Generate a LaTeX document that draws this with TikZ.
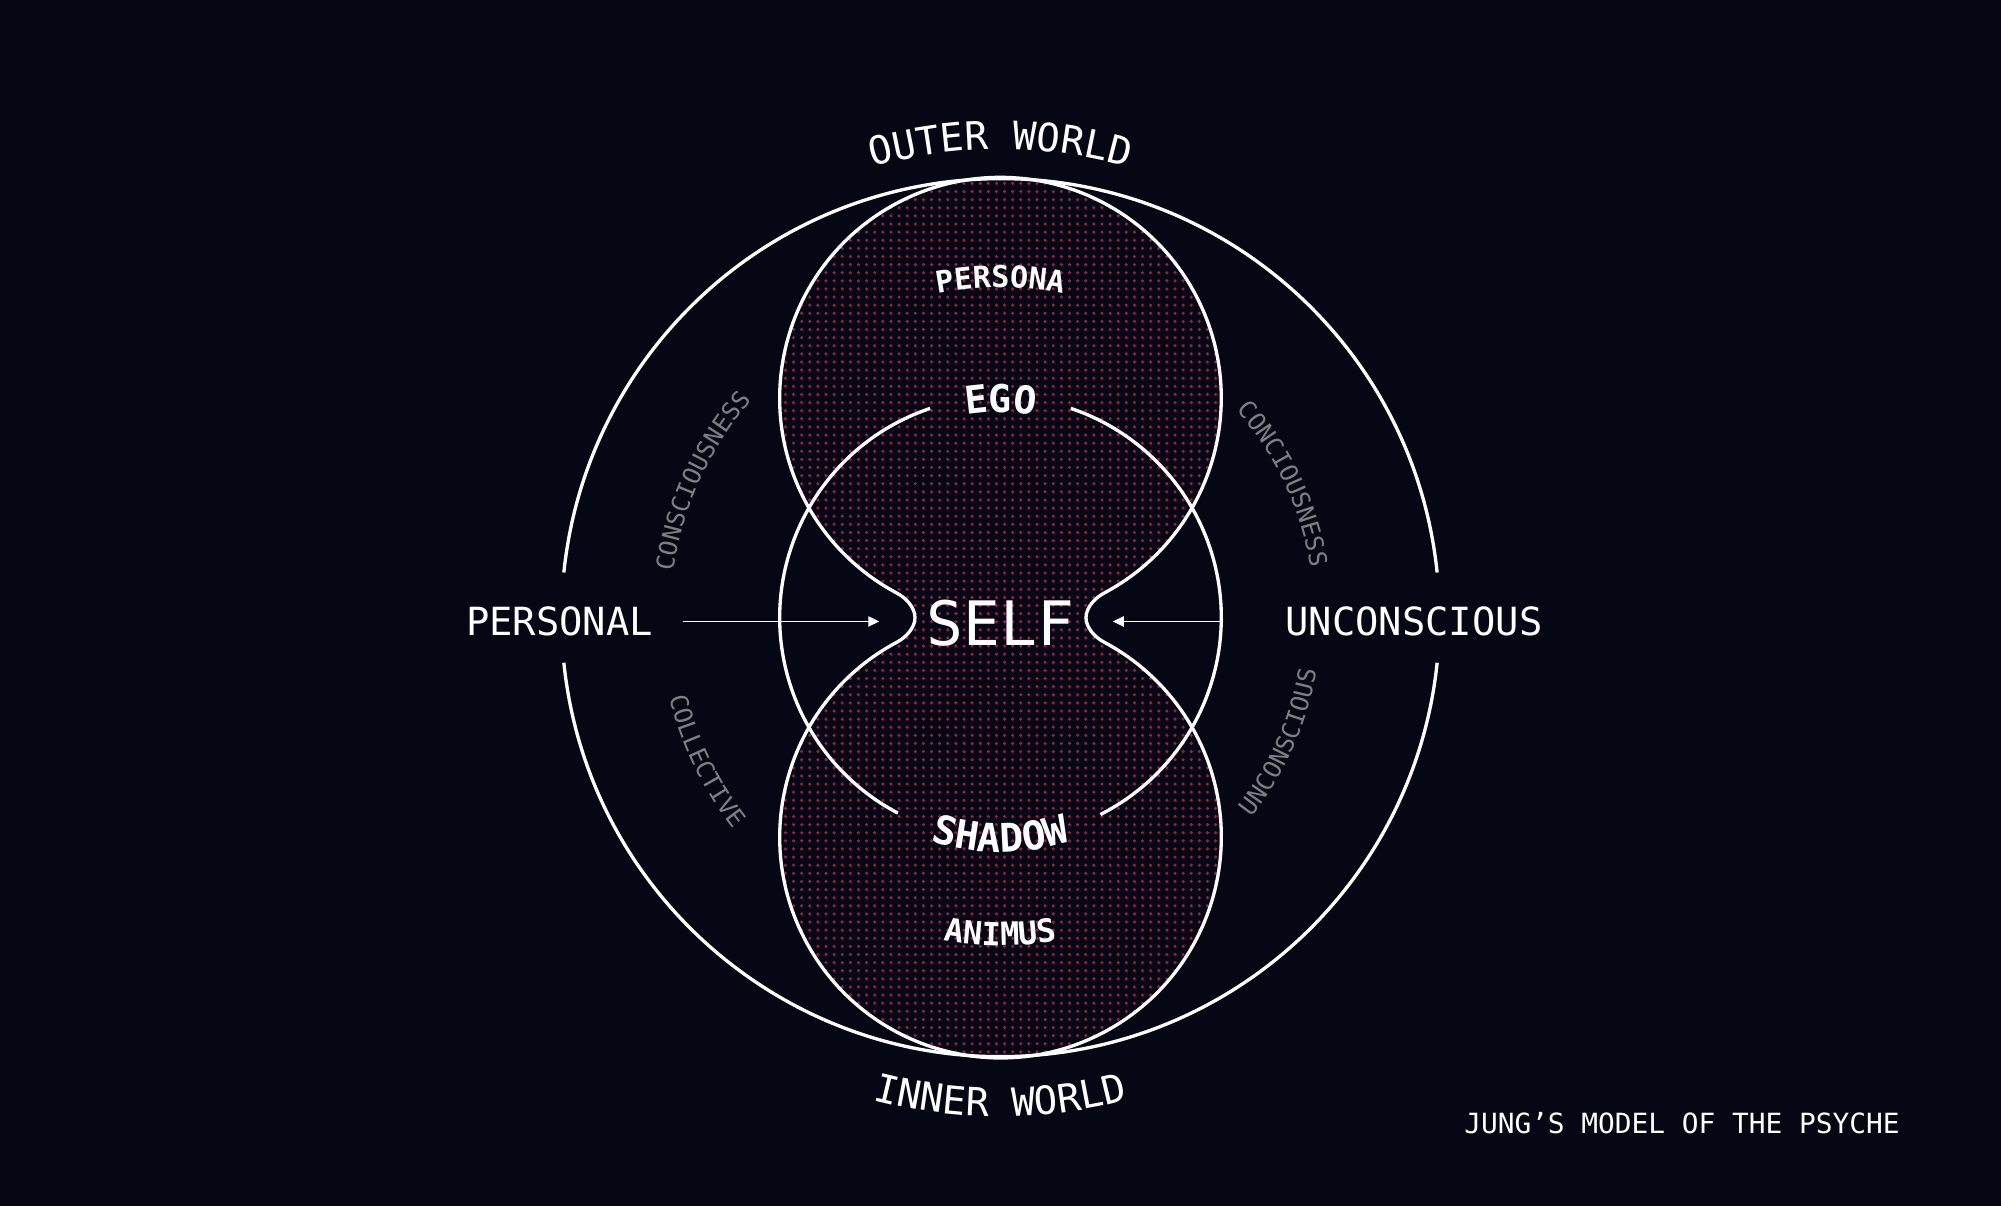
\documentclass[tikz,border=0pt]{standalone}
\usepackage{fontspec}
\newfontfamily\mono{DejaVu Sans Mono}
\usetikzlibrary{decorations.text,arrows.meta}
\definecolor{bg}{HTML}{050814}
\definecolor{dotred}{HTML}{A01A45}
\definecolor{labelgray}{HTML}{7D7F86}
\newcommand\setfs[1]{\fontsize{#1}{#1}\selectfont}
\begin{document}
\begin{tikzpicture}[x=0.5pt,y=0.5pt,
  wline/.style={white,line width=1.3pt},
  arrowline/.style={white,line width=0.55pt,-{Triangle[length=4.3pt,width=4pt]}},
  bigarc/.style={decorate,decoration={text along path,text align=center,text color=white,text={|\mono\setfs{15.3}|#1}}},
  grayarc/.style={decorate,decoration={text along path,text align=center,text color=labelgray,text={|\mono\setfs{9.6}|#1}}},
  boldarc/.style 2 args={decorate,decoration={text along path,text align=center,text color=white,text={|\mono\bfseries\setfs{#1}|#2}}},
  biglabel/.style={white,inner sep=0pt,font=\mono\setfs{15.2}}
]
% background / bounding box
\fill[bg] (-784,-461) rectangle (784,484);
\useasboundingbox (-784,-461) rectangle (784,484);

% dotted double-circle shape with neck
\begin{scope}
\clip
  (81.2,19.25) arc[start angle=-62,end angle=242,radius=173]
  .. controls (-74.1,15.5) and (-67,8) .. (-67,0)
  .. controls (-67,-8) and (-74.1,-15.5) .. (-81.2,-19.25)
  arc[start angle=118,end angle=422,radius=173]
  .. controls (74.1,-15.5) and (67,-8) .. (67,0)
  .. controls (67,8) and (74.1,15.5) .. (81.2,19.25) -- cycle;
\foreach \i in {-28,...,28}{
  \fill[dotred] \foreach \j in {-55,...,55}{ (\i*6.36+3.18,\j*6.36+3.18) circle[radius=1.37] };
}
\end{scope}
\draw[wline]
  (81.2,19.25) arc[start angle=-62,end angle=242,radius=173]
  .. controls (-74.1,15.5) and (-67,8) .. (-67,0)
  .. controls (-67,-8) and (-74.1,-15.5) .. (-81.2,-19.25)
  arc[start angle=118,end angle=422,radius=173]
  .. controls (74.1,-15.5) and (67,-8) .. (67,0)
  .. controls (67,8) and (74.1,15.5) .. (81.2,19.25) -- cycle;

% middle circle arcs
\draw[wline] (108.6:173) arc[start angle=108.6,end angle=242.3,radius=173];
\draw[wline] (-63.1:173) arc[start angle=-63.1,end angle=71.4,radius=173];

% outer circle arcs
\draw[wline] (5.9:344) arc[start angle=5.9,end angle=174.1,radius=344];
\draw[wline] (185.9:344) arc[start angle=185.9,end angle=354.1,radius=344];

% curved labels
\path[bigarc={OUTER WORLD}] (120:367) arc[start angle=120,end angle=60,radius=367];
\path[bigarc={INNER WORLD}] (240:391) arc[start angle=240,end angle=300,radius=391];
\path[boldarc={11.8}{PERSONA}] (120:259) arc[start angle=120,end angle=60,radius=259];
\path[boldarc={15}{EGO}] (120:161) arc[start angle=120,end angle=60,radius=161];
\path[boldarc={15.5}{SHADOW}] (240:184) arc[start angle=240,end angle=300,radius=184];
\path[boldarc={12.5}{ANIMUS}] (240:257) arc[start angle=240,end angle=300,radius=257];

\path[grayarc={CONSCIOUSNESS}] (185.4:259) arc[start angle=185.4,end angle=125.4,radius=259];
\path[grayarc={CONCIOUSNESS}] (55.3:246) arc[start angle=55.3,end angle=-4.7,radius=246];
\path[grayarc={COLLECTIVE}] (175.9:267) arc[start angle=175.9,end angle=235.9,radius=267];
\path[grayarc={UNCONSCIOUS}] (-54:251) arc[start angle=-54,end angle=6,radius=251];

% straight labels
\node[white,inner sep=0pt,font=\mono\setfs{24}] (self) at (0,-4) {SELF};
\node[biglabel] (personal) at (-345.5,-3) {PERSONAL};
\node[biglabel] (unconscious) at (324,-3) {UNCONSCIOUS};
\node[white,inner sep=0pt,anchor=west,font=\mono\setfs{10.9}] (title) at (363,-396) {JUNG’S MODEL OF THE PSYCHE};

% arrows
\coordinate (neckL) at (-95,-3);
\coordinate (neckR) at (88,-3);
\draw[arrowline] ([xshift=11.5pt]personal.east) -- (neckL);
\draw[arrowline] ([xshift=-24.7pt]unconscious.west) -- (neckR);
\end{tikzpicture}
\end{document}
